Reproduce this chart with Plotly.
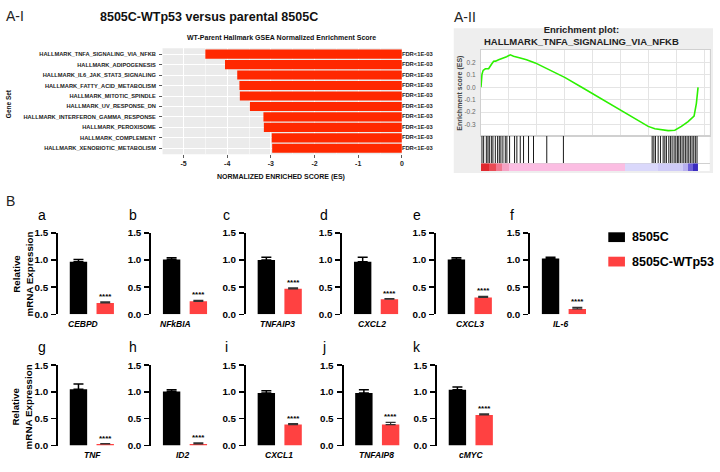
import plotly.graph_objects as go

W, H = 720, 472
FONT = "Liberation Sans, Arial, sans-serif"

# ---------------- Panel A-I data ----------------
gene_sets = [
    "HALLMARK_TNFA_SIGNALING_VIA_NFKB",
    "HALLMARK_ADIPOGENESIS",
    "HALLMARK_IL6_JAK_STAT3_SIGNALING",
    "HALLMARK_FATTY_ACID_METABOLISM",
    "HALLMARK_MITOTIC_SPINDLE",
    "HALLMARK_UV_RESPONSE_DN",
    "HALLMARK_INTERFERON_GAMMA_RESPONSE",
    "HALLMARK_PEROXISOME",
    "HALLMARK_COMPLEMENT",
    "HALLMARK_XENOBIOTIC_METABOLISM",
]
nes = [-4.50, -4.05, -3.77, -3.72, -3.71, -3.48, -3.17, -3.16, -2.98, -2.97]
fdr_labels = ["FDR&lt;1E-03"] * 10
nes_ticks = [-5, -4, -3, -2, -1, 0]

# ---------------- Panel A-II data ----------------
es_rank = [0, 92, 202, 404, 707, 845, 955, 1167, 1350, 1626, 2085, 2361, 2701, 3004,
           3620, 4198, 4998, 6220, 7754, 9279, 10813, 12347, 13872, 15406, 16022,
           16601, 17244, 17859, 18466, 19081, 19632, 19843, 19935, 20000]
es_value = [0.0, 0.104, 0.136, 0.149, 0.149, 0.175, 0.183, 0.209, 0.21, 0.222, 0.235,
            0.245, 0.261, 0.249, 0.235, 0.222, 0.196, 0.144, 0.078, 0.0, -0.078,
            -0.157, -0.235, -0.314, -0.333, -0.339, -0.348, -0.345, -0.314, -0.275,
            -0.231, -0.131, -0.053, 0.0]
hit_ranks = [92, 248, 496, 643, 772, 955, 1102, 1323, 1534, 1690, 1837, 2021, 2241,
             2388, 2637, 3096, 3307, 3620, 3923, 4382, 4841, 6064, 7597,
             15773, 15929, 16076, 16324, 16535, 16783, 16939, 17086, 17306, 17453,
             17609, 17793, 17949, 18096, 18225, 18372, 18528, 18684, 18831, 18988,
             19144, 19291, 19447, 19603, 19750, 19906]
rank_bar_edges = [0, 700, 1340, 1900, 2540, 13270, 16300, 18600, 19060, 19520, 20000]
rank_bar_metric = [2.5, 2.0, 1.5, 1.0, 0.5, -0.5, -1.0, -1.5, -2.0, -2.5]
es_ticks = [-0.3, -0.2, -0.1, 0.0, 0.1, 0.2]

# ---------------- Panel B data ----------------
genes = ["CEBPD", "NFkBIA", "TNFAIP3", "CXCL2", "CXCL3", "IL-6",
         "TNF", "ID2", "CXCL1", "TNFAIP8", "cMYC"]
panel_letters = ["a", "b", "c", "d", "e", "f", "g", "h", "i", "j", "k"]
groups = ["8505C", "8505C-WTp53"]
black_mean = [0.97, 1.01, 1.00, 0.97, 1.01, 1.03, 1.05, 1.01, 0.98, 0.98, 1.04]
black_err = [0.04, 0.03, 0.05, 0.08, 0.03, 0.02, 0.10, 0.03, 0.04, 0.06, 0.05]
red_mean = [0.21, 0.24, 0.47, 0.28, 0.31, 0.10, 0.03, 0.03, 0.39, 0.39, 0.57]
red_err = [0.02, 0.02, 0.02, 0.01, 0.02, 0.03, 0.005, 0.02, 0.02, 0.04, 0.02]
signif = ["****"] * 11
rel_ticks = [0.0, 0.5, 1.0, 1.5]


def px(x):
    return x / W


def py(y):
    return 1 - y / H


fig = go.Figure()
annotations = []
shapes = []

# ================= A-I =================
fig.add_trace(go.Bar(x=nes, y=gene_sets, orientation="h", width=0.87,
                     marker=dict(color="#ff2800", line=dict(width=0)),
                     xaxis="x", yaxis="y", showlegend=False))
fig.add_trace(go.Scatter(x=[0] * len(gene_sets), y=gene_sets, mode="text",
                         text=fdr_labels, textposition="middle right",
                         textfont=dict(size=5.8, color="#222", weight="bold"),
                         cliponaxis=False, xaxis="x", yaxis="y", showlegend=False))
shapes.append(dict(type="rect", xref="x domain", yref="y domain", x0=0, x1=1, y0=0, y1=1,
                   fillcolor="#ebebeb", line=dict(width=0), layer="below"))

layout_axes = dict(
    xaxis=dict(domain=[px(163), px(403)], range=[-5.48, 0.0], anchor="y",
               tickvals=nes_ticks, ticktext=[str(t) for t in nes_ticks],
               ticks="outside", ticklen=2.5, tickwidth=0.8, tickcolor="#333",
               tickfont=dict(size=7, color="#222", weight="bold"),
               showgrid=True, gridcolor="white", gridwidth=1,
               minor=dict(dtick=0.5, showgrid=True, gridcolor="white", gridwidth=0.5),
               zeroline=False, showline=False),
    yaxis=dict(domain=[py(151.7), py(43.3)], type="category", categoryorder="array",
               categoryarray=gene_sets, range=[9.56, -0.56], anchor="x",
               ticks="outside", ticklen=2.5, tickwidth=0.8, tickcolor="#333",
               tickfont=dict(size=5.7, color="#222", weight="bold"),
               showgrid=True, gridcolor="white", gridwidth=1, zeroline=False,
               showline=False, ticklabelstandoff=2),
)

annotations += [
    dict(text="A-I", x=px(4), y=py(10.5), xref="paper", yref="paper", xanchor="left",
         yanchor="middle", showarrow=False, font=dict(size=14, color="#222")),
    dict(text="<b>8505C-WTp53 versus parental 8505C</b>", x=px(210), y=py(11.7),
         xref="paper", yref="paper", xanchor="center", yanchor="middle", showarrow=False,
         font=dict(size=12.5, color="#111")),
    dict(text="<b>WT-Parent Hallmark GSEA Normalized Enrichment Score</b>", x=px(282),
         y=py(32.3), xref="paper", yref="paper", xanchor="center", yanchor="middle",
         showarrow=False, font=dict(size=7, color="#111")),
    dict(text="<b>NORMALIZED ENRICHED SCORE (ES)</b>", x=px(282), y=py(175),
         xref="paper", yref="paper", xanchor="center", yanchor="middle", showarrow=False,
         font=dict(size=7, color="#111")),
    dict(text="<b>Gene Set</b>", x=px(8.5), y=py(100), xref="paper", yref="paper",
         xanchor="center", yanchor="middle", textangle=-90, showarrow=False,
         font=dict(size=6.5, color="#111")),
]

# ================= A-II =================
shapes.append(dict(type="rect", xref="paper", yref="paper", x0=px(455), x1=px(715),
                   y0=py(171), y1=py(22.7), fillcolor="#eeeeee", line=dict(width=0),
                   layer="below"))
shapes.append(dict(type="rect", xref="paper", yref="paper", x0=px(482.3), x1=px(711.7),
                   y0=py(169), y1=py(45), fillcolor="white", line=dict(width=0),
                   layer="below"))

fig.add_trace(go.Scatter(x=es_rank, y=es_value, mode="lines",
                         line=dict(color="#2cf000", width=1.6),
                         xaxis="x2", yaxis="y2", showlegend=False))

hx, hy = [], []
for r in hit_ranks:
    hx += [r, r, None]
    hy += [0, 1, None]
fig.add_trace(go.Scatter(x=hx, y=hy, mode="lines", line=dict(color="#1a1a1a", width=1),
                         xaxis="x3", yaxis="y3", showlegend=False))

rank_cs = [[0.0, "#3a2cc0"], [0.1, "#6e5fd8"], [0.2, "#b8b0f0"], [0.3, "#cfcbf7"],
           [0.4, "#dad8fb"], [0.5, "#eccbe9"], [0.6, "#fbbde2"], [0.7, "#f6a2c4"],
           [0.8, "#f17890"], [0.9, "#ea4b55"], [1.0, "#e0282e"]]
fig.add_trace(go.Heatmap(x=rank_bar_edges, y=[0, 1], z=[rank_bar_metric], zmin=-2.5,
                         zmax=2.5, colorscale=rank_cs, showscale=False,
                         xaxis="x4", yaxis="y4", hoverinfo="skip"))

XR = [0, 21075]
layout_axes.update(
    xaxis2=dict(domain=[px(482.3), px(711.7)], range=XR, anchor="y2", showticklabels=False,
                ticks="", showgrid=True, gridcolor="#e4e4e4", gridwidth=1, tick0=0,
                dtick=2570, zeroline=False, showline=True, linecolor="#d0d0d0",
                linewidth=1, mirror=True),
    yaxis2=dict(domain=[py(132.7), py(45)], range=[-0.388, 0.30], anchor="x2",
                tickvals=es_ticks, ticktext=["%.1f" % t for t in es_ticks],
                tickfont=dict(size=6.5, color="#666"), ticks="", showgrid=True,
                gridcolor="#e4e4e4", gridwidth=1, zeroline=False, showline=True,
                linecolor="#d0d0d0", linewidth=1, mirror=True, ticklabelstandoff=3),
    xaxis3=dict(domain=[px(482.3), px(711.7)], range=XR, anchor="y3", showticklabels=False,
                ticks="", showgrid=False, zeroline=False, showline=True,
                linecolor="#d0d0d0", linewidth=1, mirror=True),
    yaxis3=dict(domain=[py(161), py(132.7)], range=[0, 1], anchor="x3",
                showticklabels=False, ticks="", showgrid=False, zeroline=False,
                showline=False),
    xaxis4=dict(domain=[px(482.3), px(711.7)], range=XR, anchor="y4", showticklabels=False,
                ticks="", showgrid=False, zeroline=False, showline=False),
    yaxis4=dict(domain=[py(169), py(161)], range=[0, 1], anchor="x4",
                showticklabels=False, ticks="", showgrid=False, zeroline=False,
                showline=False),
)

annotations += [
    dict(text="A-II", x=px(453.5), y=py(11.5), xref="paper", yref="paper", xanchor="left",
         yanchor="middle", showarrow=False, font=dict(size=14, color="#222")),
    dict(text="<b>Enrichment plot:<br>HALLMARK_TNFA_SIGNALING_VIA_NFKB</b>", x=px(583),
         y=py(30), xref="paper", yref="paper", xanchor="center", yanchor="middle",
         showarrow=False, font=dict(size=9.5, color="#222")),
    dict(text="<b>Enrichment score (ES)</b>", x=px(461), y=py(89), xref="paper",
         yref="paper", xanchor="center", yanchor="middle", textangle=-90,
         showarrow=False, font=dict(size=7, color="#444")),
]

# ================= B =================
axis_px = [58.3, 151.7, 246.7, 343.3, 437.3, 531.7, 58.3, 151.7, 246.7, 344.5, 438.3]
rows = [(315.7, 232.3)] * 6 + [(450, 367.7)] * 5
letter_xy = [(41.7, 214), (133, 214), (226.7, 214), (325, 214), (418, 214), (513, 214),
             (41.7, 349), (133, 349), (226.7, 349), (325, 349), (418, 349)]
label_x = [83.3, 176, 278, 373, 471.7, 561.7, 93, 184, 280, 378, 472]
PW = 67.6

for i, g in enumerate(genes):
    n = 5 + i
    xa, ya = "x%d" % n, "y%d" % n
    fig.add_trace(go.Bar(x=[groups[0]], y=[black_mean[i]], width=0.65,
                         marker=dict(color="#000000", line=dict(width=0)),
                         error_y=dict(type="data", symmetric=False, array=[black_err[i]],
                                      arrayminus=[0], color="#000000", thickness=1.5,
                                      width=5),
                         xaxis=xa, yaxis=ya, showlegend=False))
    fig.add_trace(go.Bar(x=[groups[1]], y=[red_mean[i]], width=0.65,
                         marker=dict(color="#ff4141", line=dict(width=0)),
                         error_y=dict(type="data", symmetric=False, array=[red_err[i]],
                                      arrayminus=[0], color="#333333", thickness=1.2,
                                      width=5),
                         xaxis=xa, yaxis=ya, showlegend=False))
    lo, hi = rows[i]
    layout_axes["xaxis%d" % n] = dict(domain=[px(axis_px[i]), px(axis_px[i] + PW)],
                                      type="category", categoryorder="array",
                                      categoryarray=groups, range=[-0.76, 1.76],
                                      anchor=ya, showticklabels=False, ticks="",
                                      showgrid=False, zeroline=False, showline=False)
    layout_axes["yaxis%d" % n] = dict(domain=[py(lo), py(hi)], range=[0, 1.5], anchor=xa,
                                      tickvals=rel_ticks,
                                      ticktext=["%.1f" % t for t in rel_ticks],
                                      ticks="outside", ticklen=5, tickwidth=1.5,
                                      tickcolor="black",
                                      tickfont=dict(size=9.8, color="black", weight="bold"),
                                      showline=True, linewidth=2, linecolor="black",
                                      showgrid=False, zeroline=False, ticklabelstandoff=1)
    annotations.append(dict(text=signif[i], x=groups[1], y=red_mean[i] + red_err[i],
                            xref=xa, yref=ya, xanchor="center", yanchor="bottom",
                            yshift=-1, showarrow=False,
                            font=dict(size=8, color="black", weight="bold")))
    annotations.append(dict(text="<b><i>%s</i></b>" % g, x=px(label_x[i]),
                            y=py(lo + 9.5), xref="paper", yref="paper",
                            xanchor="center", yanchor="middle", showarrow=False,
                            font=dict(size=8.5, color="black")))
    lx, ly = letter_xy[i]
    annotations.append(dict(text=panel_letters[i], x=px(lx), y=py(ly), xref="paper",
                            yref="paper", xanchor="center", yanchor="middle",
                            showarrow=False, font=dict(size=14, color="black")))

for ycen in (274, 410):
    annotations.append(dict(text="<b>Relative<br>mRNA Expression</b>", x=px(23),
                            y=py(ycen), xref="paper", yref="paper", xanchor="center",
                            yanchor="middle", textangle=-90, showarrow=False,
                            font=dict(size=9.8, color="black")))

annotations.append(dict(text="B", x=px(4), y=py(200), xref="paper", yref="paper",
                        xanchor="left", yanchor="middle", showarrow=False,
                        font=dict(size=14, color="#222")))

# manual legend
legend_colors = ["#000000", "#ff4141"]
for k, (name, col) in enumerate(zip(groups, legend_colors)):
    yc = 236.7 + 25 * k
    shapes.append(dict(type="rect", xref="paper", yref="paper", x0=px(610), x1=px(626.7),
                       y0=py(yc + 5), y1=py(yc - 5), fillcolor=col, line=dict(width=0)))
    annotations.append(dict(text="<b>%s</b>" % name, x=px(631.5), y=py(yc), xref="paper",
                            yref="paper", xanchor="left", yanchor="middle",
                            showarrow=False, font=dict(size=12.5, color="black")))

fig.update_layout(
    width=W, height=H, margin=dict(l=0, r=0, t=0, b=0),
    paper_bgcolor="white", plot_bgcolor="rgba(0,0,0,0)",
    font=dict(family=FONT, color="#222"),
    barmode="overlay", showlegend=False, hovermode=False,
    annotations=annotations, shapes=shapes,
    **layout_axes,
)

fig.write_html("out.html", config={"displayModeBar": False, "staticPlot": True},
               post_script="document.body.style.margin='0';document.body.style.overflow='hidden';")
